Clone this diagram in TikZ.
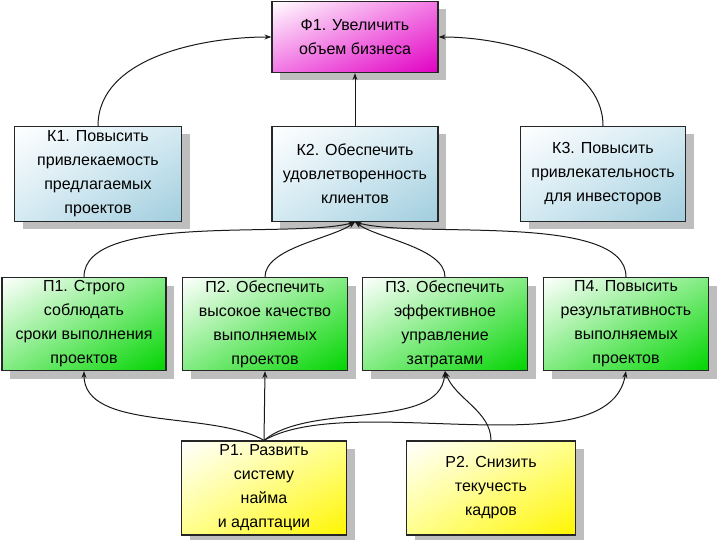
\documentclass[tikz,border=0pt]{standalone}
\usepackage{fontspec}
\setmainfont{Liberation Sans}
\usetikzlibrary{arrows.meta,shadings}
\definecolor{pinkD}{RGB}{225,0,195}
\definecolor{pinkM}{RGB}{242,120,228}
\definecolor{blueD}{RGB}{160,205,222}
\definecolor{blueM}{RGB}{212,234,242}
\definecolor{greenD}{RGB}{0,212,0}
\definecolor{greenM}{RGB}{130,236,130}
\definecolor{yelD}{RGB}{255,245,0}
\definecolor{yelM}{RGB}{255,255,140}
\definecolor{shadowC}{RGB}{190,190,190}
% #1 style, #2 name, #3 x, #4 y, #5 width, #6 height, #7 text
\newcommand\mybox[7]{%
  \path[fill=shadowC] (#3-#5/2+8,#4-#6/2+8) rectangle (#3+#5/2+8,#4+#6/2+8);
  \node[#1, minimum width=#5pt, minimum height=#6pt] (#2) at (#3,#4) {#7};}
\begin{document}
\begin{tikzpicture}[x=1pt,y=-1pt,
  box/.style={draw=black!85, line width=1.2pt, align=center, inner sep=0pt,
    font=\fontsize{16}{24}\selectfont},
  pinkbox/.style={box, shade, upper left=white, upper right=pinkM, lower left=pinkM, lower right=pinkD},
  bluebox/.style={box, shade, upper left=white, upper right=blueM, lower left=blueM, lower right=blueD},
  greenbox/.style={box, shade, upper left=white, upper right=greenM, lower left=greenM, lower right=greenD},
  yelbox/.style={box, shade, upper left=white, upper right=yelM, lower left=yelM, lower right=yelD},
  conn/.style={draw=black!90, line width=1pt, -{Stealth[length=7pt,width=5pt]}}]
\useasboundingbox (0,0) rectangle (720,540);

\mybox{pinkbox}{F1}{355}{37}{166}{71}{Ф1. Увеличить\\объем бизнеса}

\mybox{bluebox}{K1}{98}{174}{167}{95}{К1. Повысить\\привлекаемость\\предлагаемых\\проектов}
\mybox{bluebox}{K2}{355}{174}{166}{95}{К2. Обеспечить\\удовлетворенность\\клиентов}
\mybox{bluebox}{K3}{603}{174}{165}{95}{К3. Повысить\\привлекательность\\для инвесторов}

\mybox{greenbox}{P1}{84}{324}{164}{93}{П1. Строго\\соблюдать\\сроки выполнения\\проектов}
\mybox{greenbox}{P2}{265}{324}{165}{93}{П2. Обеспечить\\высокое качество\\выполняемых\\проектов}
\mybox{greenbox}{P3}{445}{324}{165}{93}{П3. Обеспечить\\эффективное\\управление\\затратами}
\mybox{greenbox}{P4}{626}{324}{165}{93}{П4. Повысить\\результативность\\выполняемых\\проектов}

\mybox{yelbox}{R1}{264}{488}{165}{94}{Р1. Развить\\систему\\найма\\и адаптации}
\mybox{yelbox}{R2}{491}{488}{169}{94}{Р2. Снизить\\текучесть\\кадров}

\draw[conn] (K1.north) to[out=90,in=180,looseness=0.9] (F1.west);
\draw[conn] (K3.north) to[out=90,in=0,looseness=0.9] (F1.east);
\draw[conn] (K2.north) -- (F1.south);
\draw[conn] (P1.north) to[out=90,in=195,looseness=0.6] (K2.south);
\draw[conn] (P2.north) to[out=90,in=215,looseness=0.7] (K2.south);
\draw[conn] (P3.north) to[out=90,in=325,looseness=0.7] (K2.south);
\draw[conn] (P4.north) to[out=90,in=345,looseness=0.6] (K2.south);
\draw[conn] (R1.north) to[out=150,in=-90,looseness=0.8] (P1.south);
\draw[conn] (R1.north) -- (P2.south);
\draw[conn] (R1.north) to[out=40,in=-95,looseness=0.8] (P3.south);
\draw[conn] (R1.north) to[out=30,in=-100,looseness=0.7] (P4.south);
\draw[conn] (R2.north) to[out=90,in=-70,looseness=0.9] (P3.south);
\end{tikzpicture}
\end{document}
